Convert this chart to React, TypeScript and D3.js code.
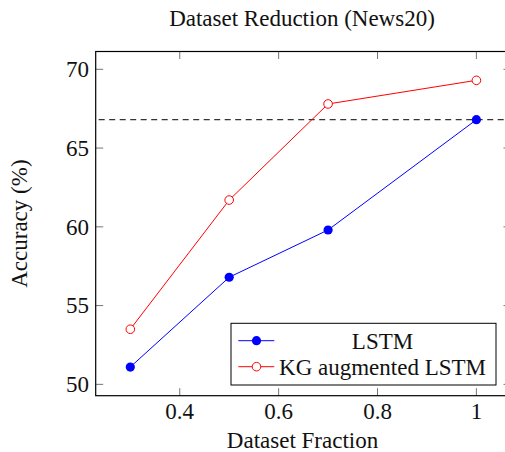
import React from "react";
import * as d3 from "d3";

const fractions = [0.3, 0.5, 0.7, 1.0];
const lstmAcc = [51.1, 56.8, 59.8, 66.8];
const kgAcc = [53.5, 61.7, 67.8, 69.3];
const baselineAcc = 66.8;
const xTickValues = [0.4, 0.6, 0.8, 1];
const yTickValues = [50, 55, 60, 65, 70];
const seriesNames = ["LSTM", "KG augmented LSTM"];

const W = 505;
const H = 452;
const FONT = "'Liberation Serif', 'Times New Roman', serif";
const FS = 23;
const txt: React.CSSProperties = { fontFamily: FONT, fontSize: FS };

export default function App() {
  const left = 95.7;
  const right = 511;
  const top = 51.5;
  const bottom = 395.7;
  const x = d3.scaleLinear().domain([0.23, 1.07]).range([left, right]);
  const y = d3.scaleLinear().domain([49.28, 71.13]).range([bottom, top]);
  const line = d3
    .line<number>()
    .x((_, i) => x(fractions[i]))
    .y((d) => y(d));
  const tl = 7.5;
  const tickStroke = "#666";

  const legRight = 496;
  const legLeft = 231;
  const legBottom = 385;
  const legTop = 323.3;
  const rows = [340.7, 366.7];
  const textCenter = (279 + legRight - 10) / 2;

  return (
    <svg
      width={W}
      height={H}
      style={{ position: "absolute", left: 0, top: 0, background: "#fff" }}
    >
      <defs>
        <clipPath id="plotclip">
          <rect x={left} y={top} width={right - left} height={bottom - top} />
        </clipPath>
      </defs>
      <rect width={W} height={H} fill="#fff" />
      {xTickValues.map((v) => (
        <g key={"xt" + v}>
          <line x1={x(v)} x2={x(v)} y1={bottom} y2={bottom - tl} stroke={tickStroke} strokeWidth={0.9} />
          <line x1={x(v)} x2={x(v)} y1={top} y2={top + tl} stroke={tickStroke} strokeWidth={0.9} />
          <text x={x(v)} y={419} textAnchor="middle" style={txt} fill="#111">
            {String(v)}
          </text>
        </g>
      ))}
      {yTickValues.map((v) => (
        <g key={"yt" + v}>
          <line x1={left} x2={left + tl} y1={y(v)} y2={y(v)} stroke={tickStroke} strokeWidth={0.9} />
          <line x1={right} x2={right - tl} y1={y(v)} y2={y(v)} stroke={tickStroke} strokeWidth={0.9} />
          <text x={89} y={y(v)} dy="0.34em" textAnchor="end" style={txt} fill="#111">
            {String(v)}
          </text>
        </g>
      ))}
      <g clipPath="url(#plotclip)">
        <line
          x1={left}
          x2={right}
          y1={y(baselineAcc)}
          y2={y(baselineAcc)}
          stroke="#000"
          strokeWidth={1}
          strokeDasharray="6 4.5"
          strokeDashoffset={-3}
        />
        <path d={line(lstmAcc) || ""} fill="none" stroke="#0000ff" strokeWidth={1} />
        <path d={line(kgAcc) || ""} fill="none" stroke="#ff0000" strokeWidth={1} />
        {lstmAcc.map((v, i) => (
          <circle key={"l" + i} cx={x(fractions[i])} cy={y(v)} r={4.6} fill="#0000ff" />
        ))}
        {kgAcc.map((v, i) => (
          <circle key={"k" + i} cx={x(fractions[i])} cy={y(v)} r={4.3} fill="#fff" stroke="#ff0000" strokeWidth={1} />
        ))}
      </g>
      <rect
        x={left}
        y={top}
        width={right - left}
        height={bottom - top}
        fill="none"
        stroke="#000"
        strokeWidth={1.2}
      />
      <rect
        x={legLeft}
        y={legTop}
        width={legRight - legLeft}
        height={legBottom - legTop}
        fill="#fff"
        stroke="#000"
        strokeWidth={1}
      />
      {rows.map((ry, i) => (
        <g key={"leg" + i}>
          <line x1={238.3} x2={274.3} y1={ry} y2={ry} stroke={i === 0 ? "#0000ff" : "#ff0000"} strokeWidth={1} />
          {i === 0 ? (
            <circle cx={256.5} cy={ry} r={4.6} fill="#0000ff" />
          ) : (
            <circle cx={256.5} cy={ry} r={4.3} fill="#fff" stroke="#ff0000" strokeWidth={1} />
          )}
          <text x={textCenter} y={ry} dy="0.34em" textAnchor="middle" style={txt} fill="#111">
            {seriesNames[i]}
          </text>
        </g>
      ))}
      <text x={302} y={26} textAnchor="middle" style={txt} fill="#111">
        Dataset Reduction (News20)
      </text>
      <text x={302.5} y={448} textAnchor="middle" style={txt} fill="#111">
        Dataset Fraction
      </text>
      <text
        transform={`translate(27, ${(top + bottom) / 2}) rotate(-90)`}
        textAnchor="middle"
        style={txt}
        fill="#111"
      >
        Accuracy (%)
      </text>
    </svg>
  );
}
